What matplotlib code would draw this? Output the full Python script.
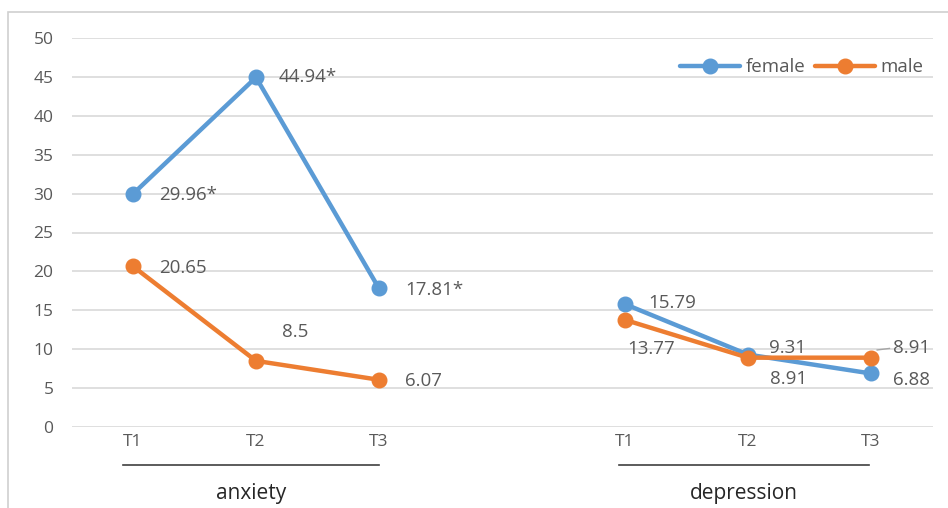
import matplotlib.pyplot as plt
from matplotlib.patches import Rectangle
from matplotlib import transforms

plt.rcParams['font.family'] = ['Open Sans', 'DejaVu Sans']

times = ['T1', 'T2', 'T3']
groups = ['anxiety', 'depression']
female_anx = [29.96, 44.94, 17.81]
male_anx = [20.65, 8.5, 6.07]
female_dep = [15.79, 9.31, 6.88]
male_dep = [13.77, 8.91, 8.91]
female_lbl = ['29.96*', '44.94*', '17.81*', '15.79', '9.31', '6.88']
male_lbl = ['20.65', '8.5', '6.07', '13.77', '8.91', '8.91']

blue = '#5B9BD5'
orange = '#ED7D31'
grey = '#595959'

x_anx = [0, 1, 2]
x_dep = [4, 5, 6]

fig = plt.figure(figsize=(9.48, 5.08), dpi=100)
fig.patches.append(Rectangle((8 / 948, -0.1), 1.2, 1 - 12 / 508 + 0.1,
                             transform=fig.transFigure, fill=False,
                             edgecolor='#d0d0d0', linewidth=1.2))
ax = fig.add_axes([71.5 / 948, 1 - 427 / 508, 861 / 948, 389 / 508])

kw = dict(linewidth=3.2, marker='o', markersize=10.5, solid_capstyle='round')
ax.plot(x_anx, female_anx, color=blue, label='female', **kw)
ax.plot(x_anx, male_anx, color=orange, label='male', **kw)
ax.plot(x_dep, female_dep, color=blue, **kw)
ax.plot(x_dep, male_dep, color=orange, **kw)

fs = 13.5
# data labels (offsets in points)
f_off = [(19, -1), (16, 0), (19, -1), (17, 1), (15, 5), (16, -5)]
m_off = [(19, -1), (19, 21), (19, -1), (2, -21), (16, -15), (16, 7)]
for x, v, t, o in zip(x_anx + x_dep, female_anx + female_dep, female_lbl, f_off):
    ax.annotate(t, (x, v), xytext=o, textcoords='offset points',
                fontsize=fs, color=grey, va='center', ha='left')
for x, v, t, o in zip(x_anx + x_dep, male_anx + male_dep, male_lbl, m_off):
    ax.annotate(t, (x, v), xytext=o, textcoords='offset points',
                fontsize=fs, color=grey, va='center', ha='left')
# leader line for male T3 depression
ax.plot([6.05, 6.15], [9.9, 10.1], color='#a6a6a6', linewidth=1)

ax.set_xlim(-0.5, 6.5)
ax.set_ylim(0, 50)
ax.set_yticks(range(0, 51, 5))
ax.set_xticks(x_anx + x_dep)
ax.set_xticklabels(times + times)
ax.tick_params(length=0, labelsize=12.5, colors=grey)
ax.tick_params(axis='x', pad=5)
ax.tick_params(axis='y', pad=13)
ax.grid(axis='y', color='#d9d9d9', linewidth=1.2)
ax.set_axisbelow(True)
for s in ax.spines.values():
    s.set_visible(False)

trans = transforms.blended_transform_factory(ax.transData, ax.transAxes)
spans = [(-0.08, 2.0), (3.95, 5.98)]
for (a, b), g in zip(spans, groups):
    ax.plot([a, b], [-0.098, -0.098], color='#404040', linewidth=1.2,
            transform=trans, clip_on=False)
    ax.text((a + b) / 2, -0.172, g, transform=trans, ha='center', va='center',
            fontsize=15, color='#262626')

ax.legend(loc='upper right', bbox_to_anchor=(1.0, 0.972), ncol=2, frameon=False,
          fontsize=13.5, labelcolor=grey, handlelength=3.2, columnspacing=0.5,
          handletextpad=0.3, borderaxespad=0.1)

fig.savefig('out.png', dpi=100)
